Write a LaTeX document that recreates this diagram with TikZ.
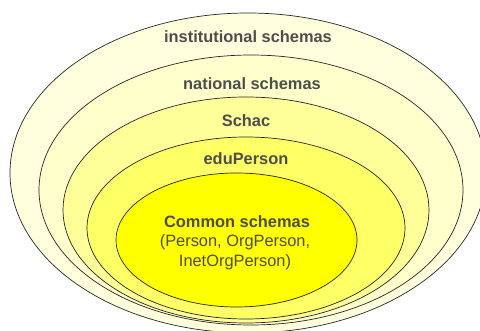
\documentclass[tikz,border=0pt]{standalone}
\usepackage{fontspec}
\setmainfont{Liberation Sans}
\usetikzlibrary{shapes.geometric}
\definecolor{c1}{HTML}{FFFFDD}
\definecolor{c2}{HTML}{FFFFCC}
\definecolor{c3}{HTML}{FFFF99}
\definecolor{c4}{HTML}{FFFF66}
\definecolor{c5}{HTML}{FFFF00}
\definecolor{txt}{HTML}{4D4D4D}
\tikzset{
  ring/.style={ellipse, draw=black!85, line width=0.7pt, inner sep=0pt},
  lbl/.style={text=txt, font=\fontsize{16.4}{20}\selectfont\bfseries, inner sep=0pt},
  sub/.style={text=txt, font=\fontsize{16.4}{20}\selectfont, inner sep=0pt, align=center}
}
\begin{document}
\begin{tikzpicture}[x=1pt,y=-1pt]
\useasboundingbox (0,0) rectangle (480,331);
\clip (0,0) rectangle (480,331);
\node[ring, fill=c1, minimum width=476pt, minimum height=320pt] (e1) at (248,173) {};
\node[ring, fill=c2, minimum width=424pt, minimum height=270pt] (e2) at (251,190) {};
\node[ring, fill=c3, minimum width=366pt, minimum height=226pt] (e3) at (246,210) {};
\node[ring, fill=c4, minimum width=318pt, minimum height=182pt] (e4) at (246,228) {};
\node[ring, fill=c5, minimum width=241pt, minimum height=134pt] (e5) at (236.5,240) {};
\node[lbl] (t1) at (248,37) {institutional schemas};
\node[lbl] (t2) at (252,84) {national schemas};
\node[lbl] (t3) at (246,121) {Schac};
\node[lbl] (t4) at (246,159) {eduPerson};
\node[lbl] (t5) at (237,222) {Common schemas};
\node[sub] (t6) at (235,252) {(Person, OrgPerson,\\InetOrgPerson)};
\end{tikzpicture}
\end{document}
